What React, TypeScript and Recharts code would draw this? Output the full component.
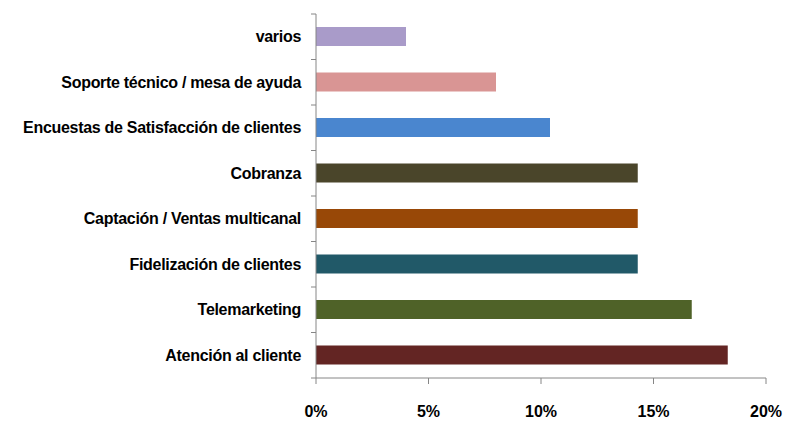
import { BarChart, Bar, XAxis, YAxis, Cell } from 'recharts';

const categories = [
  'varios',
  'Soporte técnico / mesa de ayuda',
  'Encuestas de Satisfacción de clientes',
  'Cobranza',
  'Captación / Ventas multicanal',
  'Fidelización de clientes',
  'Telemarketing',
  'Atención al cliente',
];
const values = [4.0, 8.0, 10.4, 14.3, 14.3, 14.3, 16.7, 18.3];
const colors = ['#a99bc9', '#d99594', '#4a86cf', '#4a452a', '#984807', '#215968', '#4f6228', '#632523'];
const xTicks = [0, 5, 10, 15, 20];

const data = categories.map((name, i) => ({ name, value: values[i] }));

const TOP = 14;
const BOTTOM = 378;
const BAND = (BOTTOM - TOP) / categories.length;
const AXIS = '#868686';

const YTick = (props: any) => {
  const { x, y, payload, index } = props;
  return (
    <g>
      <line x1={x + 3} x2={x + 8} y1={y - BAND / 2} y2={y - BAND / 2} stroke={AXIS} />
      {index === categories.length - 1 && (
        <line x1={x + 3} x2={x + 8} y1={y + BAND / 2} y2={y + BAND / 2} stroke={AXIS} />
      )}
      <text
        x={x - 7}
        y={y}
        textAnchor="end"
        dominantBaseline="central"
        fontFamily="'Liberation Sans', Arial, sans-serif"
        fontWeight="bold"
        fontSize={16}
        letterSpacing={-0.3}
        fill="#000"
      >
        {payload.value}
      </text>
    </g>
  );
};

const XTick = (props: any) => {
  const { x, payload } = props;
  return (
    <text
      x={x}
      y={417}
      textAnchor="middle"
      fontFamily="'Liberation Sans', Arial, sans-serif"
      fontWeight="bold"
      fontSize={16}
      fill="#000"
    >
      {payload.value}%
    </text>
  );
};

export default function App() {
  return (
    <div style={{ position: 'absolute', left: 0, top: 0, background: '#fff' }}>
      <BarChart
        width={789}
        height={421}
        data={data}
        layout="vertical"
        margin={{ top: TOP, bottom: 0, left: 0, right: 23 }}
      >
        <XAxis
          type="number"
          domain={[0, 20]}
          ticks={xTicks}
          interval={0}
          tick={<XTick />}
          tickSize={6}
          stroke={AXIS}
          height={421 - BOTTOM}
        />
        <YAxis
          type="category"
          dataKey="name"
          width={316}
          tick={<YTick />}
          tickLine={false}
          stroke={AXIS}
          interval={0}
        />
        <Bar dataKey="value" barSize={19} isAnimationActive={false}>
          {data.map((d, i) => (
            <Cell key={d.name} fill={colors[i]} />
          ))}
        </Bar>
      </BarChart>
    </div>
  );
}
